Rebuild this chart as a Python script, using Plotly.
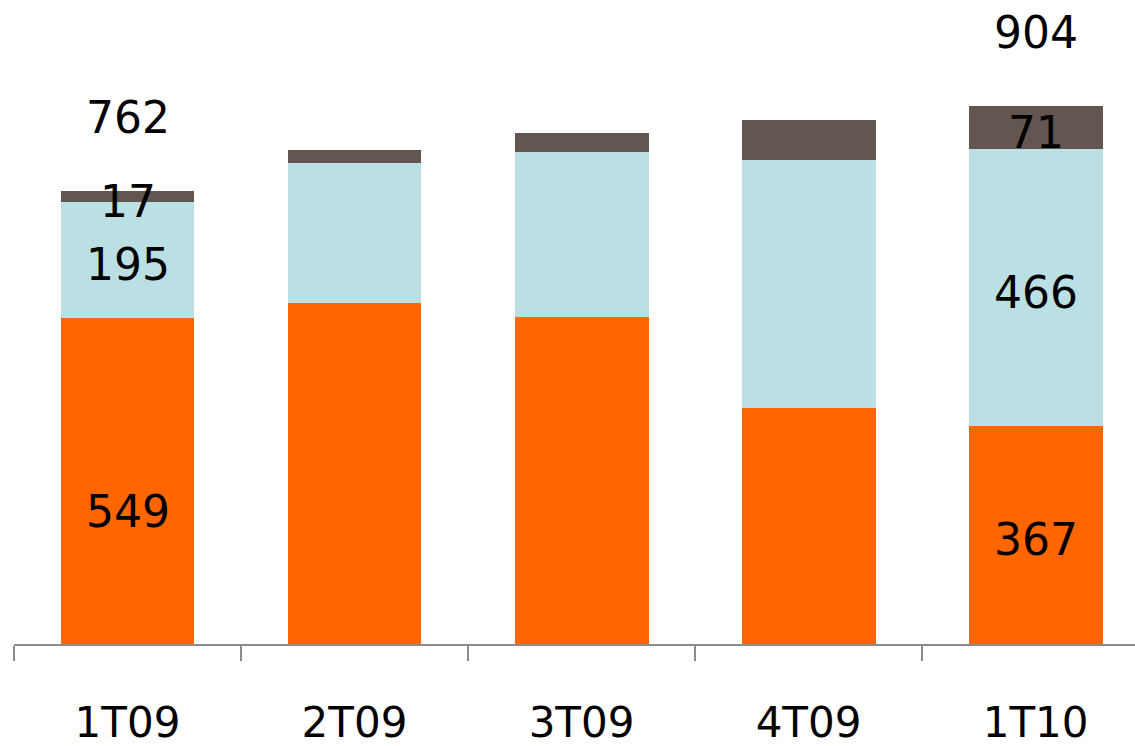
import plotly.graph_objects as go

categories = ["1T09", "2T09", "3T09", "4T09", "1T10"]
orange_vals = [549, 574, 550, 397, 367]
blue_vals = [195, 235, 278, 417, 466]
brown_vals = [17, 22, 32, 67, 71]
# totals as printed on the chart (None = not labelled)
total_labels = [762, None, None, None, 904]

ORANGE = "#FF6600"
BLUE = "#BAE0E3"
BROWN = "#635650"
FONT = "DejaVu Sans"

fig = go.Figure()
for name, vals, col in [("a", orange_vals, ORANGE), ("b", blue_vals, BLUE), ("c", brown_vals, BROWN)]:
    fig.add_trace(go.Bar(x=categories, y=vals, marker=dict(color=col, line=dict(width=0)),
                         width=0.59, name=name, showlegend=False))

for i, cat in enumerate(categories):
    if total_labels[i] is None:
        continue
    o, b, r = orange_vals[i], blue_vals[i], brown_vals[i]
    top = o + b + r
    segs = [(o / 2, o, -31 if i == 0 else -5), (o + b / 2, b, -5), (o + b + r / 2, r, -5)]
    for y, v, ys in segs:
        fig.add_annotation(x=cat, y=y, text=str(v), showarrow=False, yshift=ys,
                           font=dict(family=FONT, size=44, color="black"))
    fig.add_annotation(x=cat, y=top, text=str(total_labels[i]), showarrow=False, yshift=74,
                       font=dict(family=FONT, size=44, color="black"))

fig.update_layout(
    barmode="stack",
    width=1135, height=746,
    margin=dict(l=14, r=0, t=0, b=102),
    paper_bgcolor="white", plot_bgcolor="white",
    font=dict(family=FONT, size=44, color="black"),
    xaxis=dict(range=[-0.5, 4.438], showline=True, linecolor="#8C8C8C", linewidth=2,
               ticks="outside", tickson="boundaries", ticklen=15, tickwidth=2, tickcolor="#8C8C8C",
               ticklabelstandoff=41, showgrid=False, zeroline=False, automargin=False,
               tickfont=dict(family=FONT, size=42, color="black")),
    yaxis=dict(range=[0, 1083], visible=False, showgrid=False, zeroline=False, automargin=False),
)

fig.write_html("out.html")
